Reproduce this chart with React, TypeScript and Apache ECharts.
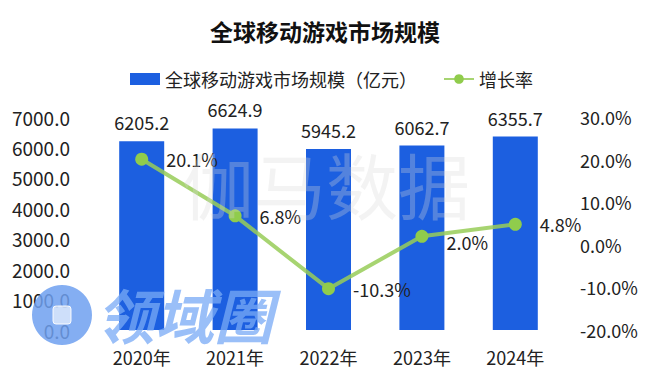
import React, { useEffect, useRef } from "react";
import * as echarts from "echarts";

const categories = ["2020年", "2021年", "2022年", "2023年", "2024年"];
const marketSize = [6205.2, 6624.9, 5945.2, 6062.7, 6355.7];
const growthRate = [20.1, 6.8, -10.3, 2.0, 4.8];
const barName = "全球移动游戏市场规模（亿元）";
const lineName = "增长率";
const titleText = "全球移动游戏市场规模";

const FONT = "'Noto Sans CJK SC', 'Noto Sans', sans-serif";

export default function App() {
  const ref = useRef<HTMLDivElement>(null);
  useEffect(() => {
    if (!ref.current) return;
    const chart = echarts.init(ref.current, null, { renderer: "svg" });
    chart.setOption({
      animation: false,
      backgroundColor: "#ffffff",
      textStyle: { fontFamily: FONT },
      title: {
        text: titleText,
        left: "center",
        top: 14,
        textStyle: { fontSize: 23, fontWeight: "bold", color: "#111", fontFamily: FONT },
      },
      legend: {
        top: 65,
        left: 125,
        itemWidth: 30,
        itemHeight: 12,
        itemGap: 26,
        textStyle: { fontSize: 18, color: "#222", fontFamily: FONT },
        data: [
          { name: barName, icon: "rect" },
          { name: lineName },
        ],
      },
      grid: { left: 95, right: 88, top: 117, bottom: 46 },
      xAxis: {
        type: "category",
        data: categories,
        axisLine: { show: false },
        axisTick: { show: false },
        axisLabel: { fontSize: 18, color: "#222", margin: 18, fontFamily: FONT },
      },
      yAxis: [
        {
          type: "value",
          min: 0,
          max: 7000,
          interval: 1000,
          splitLine: { show: false },
          axisLine: { show: false },
          axisTick: { show: false },
          axisLabel: {
            fontSize: 19,
            color: "#222",
            margin: 25,
            fontFamily: FONT,
            formatter: (v: number) => v.toFixed(1),
          },
        },
        {
          type: "value",
          position: "right",
          min: -20,
          max: 30,
          interval: 10,
          splitLine: { show: false },
          axisLine: { show: false },
          axisTick: { show: false },
          axisLabel: {
            fontSize: 18,
            color: "#222",
            margin: 18,
            fontFamily: FONT,
            formatter: (v: number) => v.toFixed(1) + "%",
          },
        },
      ],
      series: [
        {
          name: barName,
          type: "bar",
          data: marketSize,
          barWidth: 45,
          itemStyle: { color: "#1c5fe0" },
          label: {
            show: true,
            position: "top",
            distance: 10,
            fontSize: 18,
            color: "#222",
            fontFamily: FONT,
            formatter: (p: any) => Number(p.value).toFixed(1),
          },
          z: 2,
        },
        {
          name: lineName,
          type: "line",
          yAxisIndex: 1,
          data: growthRate.map((v, i) =>
            i === 3 ? { value: v, label: { offset: [0, 6] } } : v
          ),
          symbol: "circle",
          symbolSize: 13,
          itemStyle: { color: "#90cc4c" },
          lineStyle: { color: "#98cc58", width: 4, opacity: 0.85 },
          label: {
            show: true,
            position: "right",
            distance: 18,
            fontSize: 18,
            color: "#222",
            fontFamily: FONT,
            formatter: (p: any) => Number(p.value).toFixed(1) + "%",
          },
          z: 3,
        },
      ],
      graphic: [
        {
          type: "text",
          left: 182,
          top: 146,
          z: 10,
          silent: true,
          style: {
            text: "伽马数据",
            fontSize: 72,
            fontFamily: FONT,
            fill: "rgba(215,215,215,0.3)",
          },
        },
        {
          type: "circle",
          shape: { cx: 62, cy: 315, r: 30 },
          z: 1,
          silent: true,
          style: { fill: "rgba(110,160,240,0.85)" },
        },
        {
          type: "rect",
          shape: { x: 53, y: 306, width: 18, height: 18, r: 3 },
          z: 1,
          silent: true,
          style: { fill: "rgba(255,255,255,0.6)", stroke: "rgba(255,255,255,0.9)", lineWidth: 1 },
        },
        {
          type: "text",
          left: 96,
          top: 284,
          z: 10,
          silent: true,
          style: {
            text: "领域圈",
            fontSize: 59,
            fontWeight: "bold",
            fontStyle: "italic",
            fontFamily: FONT,
            fill: "rgba(120,170,245,0.75)",
          },
        },
      ],
    });
    return () => chart.dispose();
  }, []);
  return <div ref={ref} style={{ width: 650, height: 376, position: "absolute", left: 0, top: 0 }} />;
}
